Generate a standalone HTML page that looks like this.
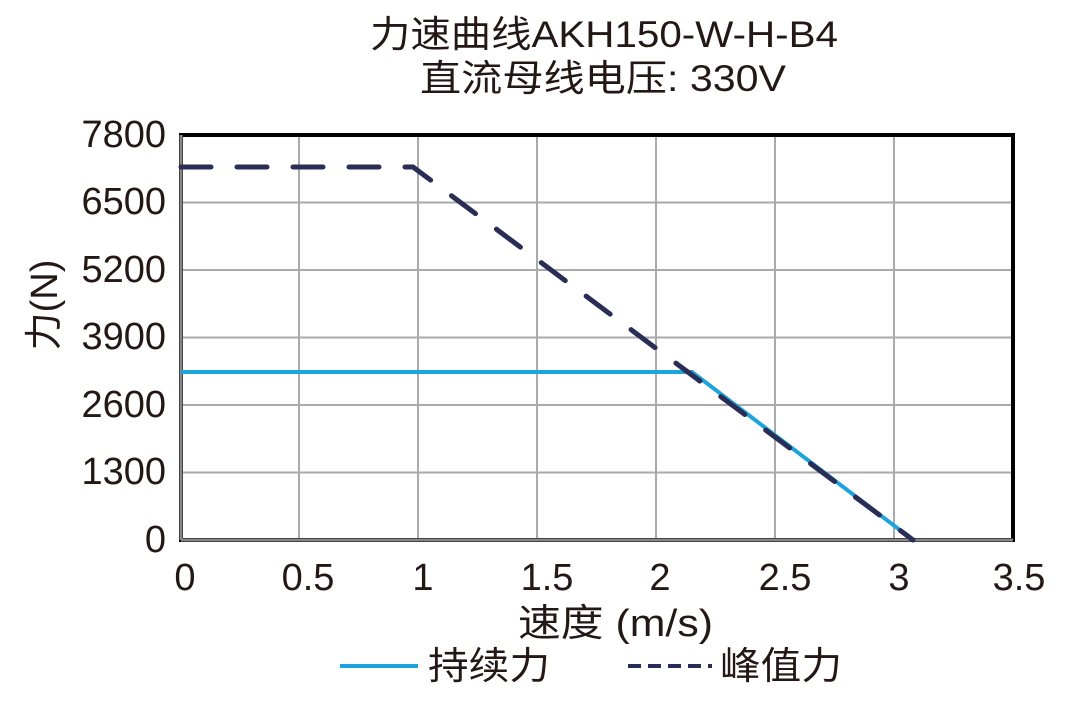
<!DOCTYPE html>
<html><head><meta charset="utf-8"><style>
body{margin:0;background:#fff;}
svg text{font-family:"Liberation Sans","Noto Sans CJK SC",sans-serif;fill:#231815;}
</style></head><body>
<svg width="1069" height="698" viewBox="0 0 1069 698" xmlns="http://www.w3.org/2000/svg">
<text x="370" y="47" font-size="37" textLength="468" lengthAdjust="spacingAndGlyphs">力速曲线AKH150-W-H-B4</text>
<text x="420" y="91" font-size="37" textLength="366" lengthAdjust="spacingAndGlyphs">直流母线电压: 330V</text>
<g stroke="#aaa" stroke-width="2">
<line x1="299" y1="135" x2="299" y2="540"/><line x1="418" y1="135" x2="418" y2="540"/>
<line x1="537" y1="135" x2="537" y2="540"/><line x1="656" y1="135" x2="656" y2="540"/>
<line x1="775" y1="135" x2="775" y2="540"/><line x1="894" y1="135" x2="894" y2="540"/>
<line x1="180" y1="202.5" x2="1013" y2="202.5"/><line x1="180" y1="270" x2="1013" y2="270"/>
<line x1="180" y1="337.5" x2="1013" y2="337.5"/><line x1="180" y1="405" x2="1013" y2="405"/>
<line x1="180" y1="472.5" x2="1013" y2="472.5"/>
</g>
<rect x="181" y="135" width="832" height="405" fill="none" stroke="#000" stroke-width="4"/>
<line x1="181" y1="135" x2="181" y2="540" stroke="#888" stroke-width="3"/>
<line x1="181" y1="540" x2="1013" y2="540" stroke="#888" stroke-width="3"/>
<polyline points="181,372 692,372 913,540" fill="none" stroke="#1ea4dc" stroke-width="4"/>
<polyline points="181,167 413,167 913,540" fill="none" stroke="#2a2d55" stroke-width="5" stroke-dasharray="30,26" stroke-linecap="round"/>
<g font-size="38" text-anchor="end">
<text x="166" y="147">7800</text><text x="166" y="214">6500</text><text x="166" y="282">5200</text>
<text x="166" y="349">3900</text><text x="166" y="417">2600</text><text x="166" y="484">1300</text>
<text x="166" y="552">0</text></g>
<g font-size="38" text-anchor="middle">
<text x="185" y="590">0</text><text x="308" y="590">0.5</text><text x="423" y="590">1</text>
<text x="547" y="590">1.5</text><text x="660" y="590">2</text><text x="785" y="590">2.5</text>
<text x="899" y="590">3</text><text x="1019" y="590">3.5</text></g>
<text x="518" y="636" font-size="38" textLength="195" lengthAdjust="spacingAndGlyphs">速度 (m/s)</text>
<text transform="translate(57,305) rotate(-90)" font-size="38" text-anchor="middle">力(N)</text>
<line x1="340" y1="666" x2="418" y2="666" stroke="#1ea4dc" stroke-width="4"/>
<text x="428" y="679" font-size="38" textLength="122" lengthAdjust="spacingAndGlyphs">持续力</text>
<line x1="628" y1="666" x2="712" y2="666" stroke="#2a2d55" stroke-width="4" stroke-dasharray="13,7"/>
<text x="720" y="679" font-size="38" textLength="122" lengthAdjust="spacingAndGlyphs">峰值力</text>
</svg>
</body></html>
